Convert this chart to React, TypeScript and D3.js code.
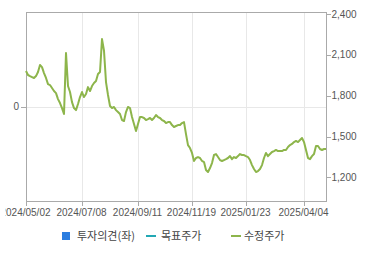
import React from "react";
import * as d3 from "d3";

// Adjusted close prices (수정주가), one sample per chart step
const prices: number[] = [
  1981, 1952, 1944, 1937, 1930, 1944, 1974, 2025, 2010, 1966,
  1930, 1885, 1878, 1856, 1834, 1819, 1775, 1746, 1709, 1665,
  2113, 1871, 1827, 1753, 1709, 1694, 1739, 1790, 1827, 1790,
  1812, 1863, 1834, 1871, 1893, 1908, 1959, 1974, 2216, 2130,
  1900, 1805, 1724, 1709, 1717, 1694, 1680, 1665, 1621, 1614,
  1680, 1717, 1709, 1643, 1592, 1540, 1592, 1643, 1643, 1636,
  1621, 1628, 1636, 1621, 1636, 1658, 1643, 1636, 1621, 1614,
  1599, 1606, 1606, 1584, 1570, 1577, 1584, 1584, 1599, 1606,
  1518, 1437, 1415, 1379, 1320, 1342, 1349, 1342, 1320, 1312,
  1254, 1239, 1268, 1305, 1364, 1371, 1349, 1327, 1320, 1327,
  1334, 1342, 1356, 1334, 1349, 1342, 1356, 1371, 1364, 1364,
  1356, 1349, 1327, 1290, 1261, 1239, 1246, 1261, 1290, 1342,
  1379, 1356, 1371, 1386, 1393, 1401, 1393, 1393, 1393, 1401,
  1401, 1423, 1437, 1445, 1459, 1467, 1459, 1474, 1489, 1459,
  1401, 1342, 1334, 1356, 1371, 1430, 1430, 1408, 1401, 1408, 1408,
];

const xTickLabels: string[] = ["2024/05/02", "2024/07/08", "2024/09/11", "2024/11/19", "2025/01/23", "2025/04/04"];
const xTickIndex: number[] = [0, 28, 56, 83, 110, 139];
const rightTicks: number[] = [1200, 1500, 1800, 2100, 2400];
const leftTicks: number[] = [0];
const legendLabels: string[] = ["투자의견(좌)", "목표주가", "수정주가"];
const legendColors: string[] = ["#2b7de0", "#22a8b4", "#8db54b"];

export default function App() {
  const W = 370, H = 255;
  const left = 26, right = 326, top = 12, bottom = 201;
  const x = d3.scaleLinear().domain([0, prices.length - 1]).range([left, right]);
  const yR = d3.scaleLinear().domain([1026, 2415]).range([bottom, top]);
  const yL = d3.scaleLinear().domain([-1, 1]).range([bottom, top]);
  const line = d3.line<number>().x((_, i) => x(i)).y((d) => yR(d));
  const textColor = "#555";
  const font = "'Liberation Sans', Arial, sans-serif";
  const kfont = "'Noto Sans CJK KR', sans-serif";
  const legendX = [62, 146, 231];
  const legendTextX = [77, 161, 244];
  const ly = 236;
  return (
    <svg width={W} height={H} style={{ position: "absolute", left: 0, top: 0, background: "#fff" }}>
      <defs>
        <clipPath id="lblclip">
          <rect x={5.5} y={0} width={W} height={H} />
        </clipPath>
      </defs>
      <rect x={0} y={0} width={W} height={H} fill="#fff" />
      {/* grid */}
      {xTickIndex.map((ix, i) => (
        <line key={"vg" + i} x1={Math.round(x(ix)) + 0.5} x2={Math.round(x(ix)) + 0.5} y1={top} y2={bottom} stroke="#e8e8e8" />
      ))}
      {leftTicks.map((t, i) => (
        <line key={"hg" + i} x1={left} x2={right} y1={Math.round(yL(t)) + 0.5} y2={Math.round(yL(t)) + 0.5} stroke="#e8e8e8" />
      ))}
      {/* frame */}
      <rect x={left + 0.5} y={top + 0.5} width={right - left} height={bottom - top} fill="none" stroke="#aaa" />
      {/* x ticks */}
      {xTickIndex.map((ix, i) => (
        <g key={"xt" + i}>
          <line x1={Math.round(x(ix)) + 0.5} x2={Math.round(x(ix)) + 0.5} y1={bottom} y2={bottom + 5} stroke="#aaa" />
          <text x={x(ix) - 0.5} y={215.5} textAnchor="middle" fontSize={10} fontFamily={font} fill={textColor} clipPath="url(#lblclip)">
            {xTickLabels[i]}
          </text>
        </g>
      ))}
      {/* right ticks */}
      {rightTicks.map((t, i) => (
        <g key={"rt" + i}>
          <line x1={right} x2={right + 5} y1={Math.round(yR(t)) + 0.5} y2={Math.round(yR(t)) + 0.5} stroke="#aaa" />
          <text x={right + 5.5} y={yR(t)} dy="0.35em" fontSize={10} fontFamily={font} fill={textColor}>
            {d3.format(",")(t)}
          </text>
        </g>
      ))}
      {/* left ticks */}
      {leftTicks.map((t, i) => (
        <g key={"lt" + i}>
          <line x1={left - 5} x2={left} y1={Math.round(yL(t)) + 0.5} y2={Math.round(yL(t)) + 0.5} stroke="#aaa" />
          <text x={left - 7} y={yL(t)} dy="0.35em" textAnchor="end" fontSize={10} fontFamily={font} fill={textColor}>
            {t}
          </text>
        </g>
      ))}
      {/* price line */}
      <path d={line(prices) || ""} fill="none" stroke={legendColors[2]} strokeWidth={2} strokeLinejoin="round" />
      {/* legend */}
      <rect x={legendX[0]} y={ly - 4} width={8} height={8} fill={legendColors[0]} />
      <line x1={legendX[1]} x2={legendX[1] + 10} y1={ly} y2={ly} stroke={legendColors[1]} strokeWidth={2} />
      <line x1={legendX[2]} x2={legendX[2] + 10} y1={ly} y2={ly} stroke={legendColors[2]} strokeWidth={2} />
      {legendLabels.map((l, i) => (
        <text key={"lg" + i} x={legendTextX[i]} y={ly} dy="0.36em" fontSize={11} fontFamily={kfont} fill="#444">
          {l}
        </text>
      ))}
    </svg>
  );
}
